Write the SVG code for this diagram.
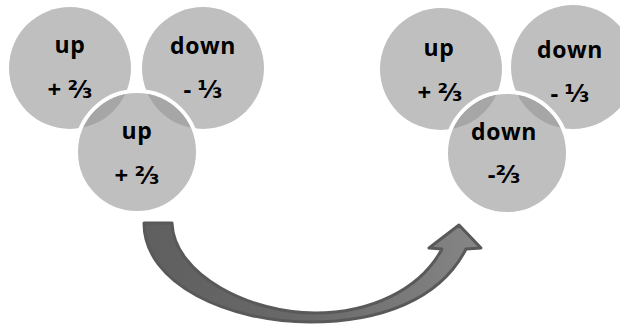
<svg xmlns="http://www.w3.org/2000/svg" width="620" height="327" viewBox="0 0 620 327">
<style>
.c{fill:#bfbfbf}
.ov{fill:#a6a6a6}
.front{fill:#bfbfbf;stroke:#ffffff;stroke-width:4}
.t{font-family:"Open Sans","DejaVu Sans",sans-serif;font-weight:700;font-size:23px;letter-spacing:0.6px;fill:#000;text-anchor:middle}
.f{font-family:"Open Sans","DejaVu Sans",sans-serif;font-weight:700;font-size:24px;fill:#000;text-anchor:middle}
</style>
<defs>
<clipPath id="clipL"><circle cx="137" cy="152" r="59"/></clipPath>
<clipPath id="clipR"><circle cx="507" cy="153" r="59"/></clipPath>
<linearGradient id="ag" x1="144" y1="0" x2="481" y2="0" gradientUnits="userSpaceOnUse">
<stop offset="0" stop-color="#5f5f5f"/>
<stop offset="0.5" stop-color="#6a6a6a"/>
<stop offset="1" stop-color="#868686"/>
</linearGradient>
</defs>

<g id="left-up1">
<circle class="c" cx="70" cy="68" r="61"/>
<text class="t" x="70" y="53">up</text>
<text class="f" x="70" y="98">+ ⅔</text>
</g>
<g id="left-down">
<circle class="c" cx="203" cy="68" r="61"/>
<text class="t" x="203" y="54">down</text>
<text class="f" x="203" y="98">- ⅓</text>
</g>
<g id="left-up2">
<circle class="front" cx="137" cy="152" r="61"/>
<g clip-path="url(#clipL)">
<circle class="ov" cx="70" cy="68" r="61"/>
<circle class="ov" cx="203" cy="68" r="61"/>
</g>
<text class="t" x="137" y="139">up</text>
<text class="f" x="137" y="184">+ ⅔</text>
</g>

<g id="right-up">
<circle class="c" cx="441" cy="69" r="61"/>
<text class="t" x="439" y="56">up</text>
<text class="f" x="440" y="101">+ ⅔</text>
</g>
<g id="right-down1">
<circle class="c" cx="573" cy="67" r="62"/>
<text class="t" x="570" y="58">down</text>
<text class="f" x="570" y="102">- ⅓</text>
</g>
<g id="right-down2">
<circle class="front" cx="507" cy="153" r="61"/>
<g clip-path="url(#clipR)">
<circle class="ov" cx="441" cy="69" r="61"/>
<circle class="ov" cx="573" cy="67" r="62"/>
</g>
<text class="t" x="504" y="140">down</text>
<text class="f" x="504" y="183">-⅔</text>
</g>

<g id="connectors">
<path d="M144,223 C144,285 230,322 310,322 C380,322 440,300 466,249 L481,248 L459,225 L429,248 L442,249 C420,290 370,313 315,313 C250,313 174,275 172,223 Z" fill="url(#ag)" stroke="#595959" stroke-width="3" stroke-linejoin="round"/>
</g>
</svg>
